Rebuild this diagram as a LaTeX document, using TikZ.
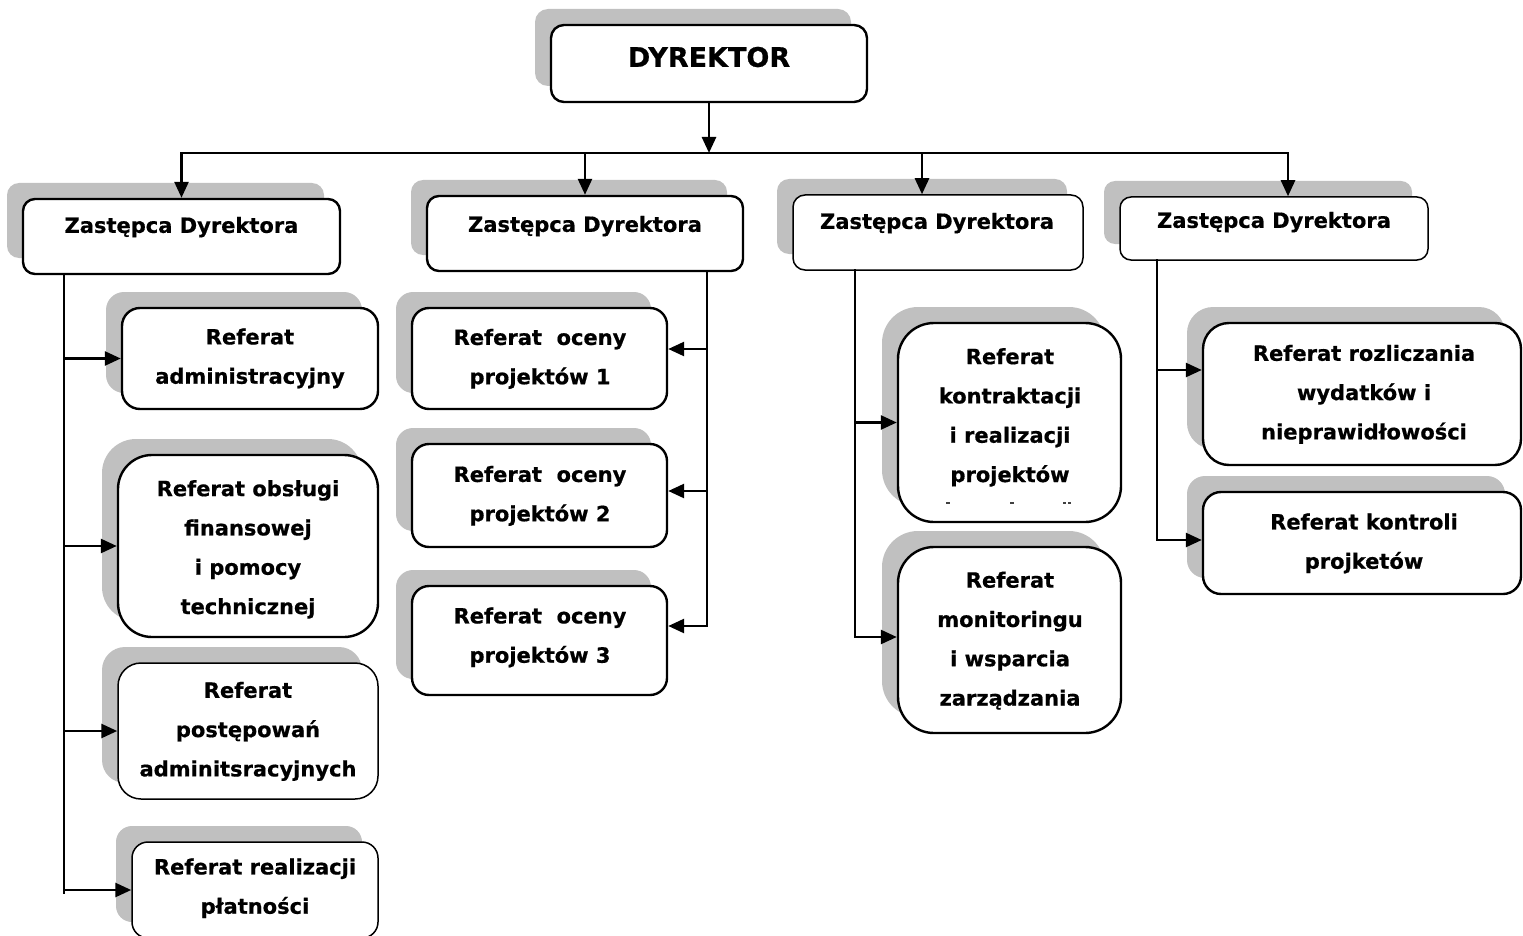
\documentclass[tikz,border=0pt]{standalone}
\usepackage{fontspec}
\setmainfont[BoldFeatures={FakeBold=0.6}]{DejaVu Sans}
\usetikzlibrary{arrows.meta,shadows}
\definecolor{shadowgray}{RGB}{192,192,192}
\tikzset{
  orgbox/.style={draw=black, fill=white, line width=2.4pt, inner sep=0pt,
    general shadow={shadow xshift=-16pt, shadow yshift=16pt, fill=shadowgray}},
  thinbox/.style={line width=1.5pt},
  unittext/.style={font=\fontsize{21}{39.3}\selectfont\bfseries, align=center,
    inner sep=0pt, execute at begin node=\strut, execute at end node=\strut},
  link/.style={line width=2.6pt, line cap=rect},
  arr/.style={line width=2.6pt, -{Triangle[length=16pt,width=14pt]}},
}
% \orgunit[opts]{name}{x1}{y1}{x2}{y2}{corner radius}
\newcommand\orgunit[7][]{%
  \node[orgbox, rounded corners=#7pt, minimum width={#5-#3}, minimum height={#6-#4}, #1]
    (#2) at ({(#3+#5)/2},{(#4+#6)/2}) {};}
\begin{document}
\begin{tikzpicture}[x=1pt,y=-1pt]
\path[use as bounding box, clip] (0,0) rectangle (1523,936);

% director
\orgunit{dyr}{551}{25}{867}{102}{13}
\node[unittext, font=\fontsize{27}{39.3}\selectfont\bfseries] (dyr-t) at (709,59) {DYREKTOR};

% deputies
\orgunit{z1}{23}{199}{340}{274}{12}
\orgunit{z2}{427}{196}{743}{271}{12}
\orgunit[thinbox]{z3}{793}{195}{1083}{270}{12}
\orgunit[thinbox]{z4}{1120}{197}{1428}{260}{11}
\node[unittext] (z1-t) at (181.5,225) {Zastępca Dyrektora};
\node[unittext] (z2-t) at (585,224) {Zastępca Dyrektora};
\node[unittext] (z3-t) at (937,221) {Zastępca Dyrektora};
\node[unittext] (z4-t) at (1274,220) {Zastępca Dyrektora};

% first deputy's units
\orgunit{adm}{122}{308}{378}{409}{18}
\orgunit{obs}{118}{455}{378}{637}{34}
\orgunit[thinbox]{post}{118}{663}{378}{799}{23}
\orgunit[thinbox]{plat}{132}{842}{378}{938}{16}
\node[unittext] (adm-t) at (250,362) {Referat\\administracyjny};
\node[unittext] (obs-t) at (248,553) {Referat obsługi\\finansowej\\i pomocy\\technicznej};
\node[unittext] (post-t) at (248,735) {Referat\\postępowań\\adminitsracyjnych};
\node[unittext] (plat-t) at (255,892) {Referat realizacji\\płatności};

% second deputy's units
\orgunit{oc1}{412}{308}{667}{409}{17}
\orgunit{oc2}{412}{444}{667}{547}{17}
\orgunit{oc3}{412}{586}{667}{695}{17}
\node[unittext] (oc1-t) at (540,362.5) {Referat\ \ oceny\\projektów 1};
\node[unittext] (oc2-t) at (540,499.5) {Referat\ \ oceny\\projektów 2};
\node[unittext] (oc3-t) at (540,641) {Referat\ \ oceny\\projektów 3};

% third deputy's units
\orgunit{kon}{898}{323}{1121}{522}{36}
\orgunit{mon}{898}{547}{1121}{733}{36}
\node[unittext] (kon-t) at (1010,421) {Referat\\kontraktacji\\i realizacji\\projektów};
\draw[line width=1.2pt, black!75] (946,503) -- (950,503) (1010,503) -- (1014,503)
  (1063,503) -- (1066,503) (1068,503) -- (1071,503);
\node[unittext] (mon-t) at (1010,644.5) {Referat\\monitoringu\\i wsparcia\\zarządzania};

% fourth deputy's units
\orgunit{roz}{1203}{323}{1521}{465}{26}
\orgunit{kontr}{1203}{492}{1521}{594}{18}
\node[unittext] (roz-t) at (1364,398) {Referat rozliczania\\wydatków i\\nieprawidłowości};
\node[unittext] (kontr-t) at (1364,547) {Referat kontroli\\projketów};

% director to deputies
\coordinate (busL) at (181,153);
\coordinate (busR) at (1288,153);
\coordinate (b3) at (922,153);
\draw[link] (busL) -- (busR);
\draw[arr] (dyr.south) -- (dyr.south |- busL);
\draw[arr] (z1.north |- busL) -- (z1.north);
\draw[arr] (z2.north |- busL) -- (z2.north);
\draw[arr] (b3) -- (b3 |- z3.north);
\draw[arr] (busR) -- (busR |- z4.north);

% first deputy
\coordinate (t1) at (64,893);
\draw[link] (t1 |- z1.south) -- (t1);
\draw[arr] (t1 |- adm.west) -- (adm.west);
\draw[arr] (t1 |- obs.west) -- (obs.west);
\draw[arr] (t1 |- post.west) -- (post.west);
\draw[arr] (t1 |- plat.west) -- (plat.west);

% second deputy
\coordinate (t2) at (707,626);
\coordinate (c21) at (707,349);
\coordinate (c22) at (707,491);
\draw[link] (t2 |- z2.south) -- (t2);
\draw[arr] (c21) -- (c21 -| oc1.east);
\draw[arr] (c22) -- (c22 -| oc2.east);
\draw[arr] (t2) -- (t2 -| oc3.east);

% third deputy
\coordinate (t3) at (855,637);
\draw[link] (t3 |- z3.south) -- (t3);
\draw[arr] (t3 |- kon.west) -- (kon.west);
\draw[arr] (t3) -- (t3 -| mon.west);

% fourth deputy
\coordinate (t4) at (1157,540);
\coordinate (c41) at (1157,370);
\draw[link] (t4 |- z4.south) -- (t4);
\draw[arr] (c41) -- (c41 -| roz.west);
\draw[arr] (t4) -- (t4 -| kontr.west);
\end{tikzpicture}
\end{document}
